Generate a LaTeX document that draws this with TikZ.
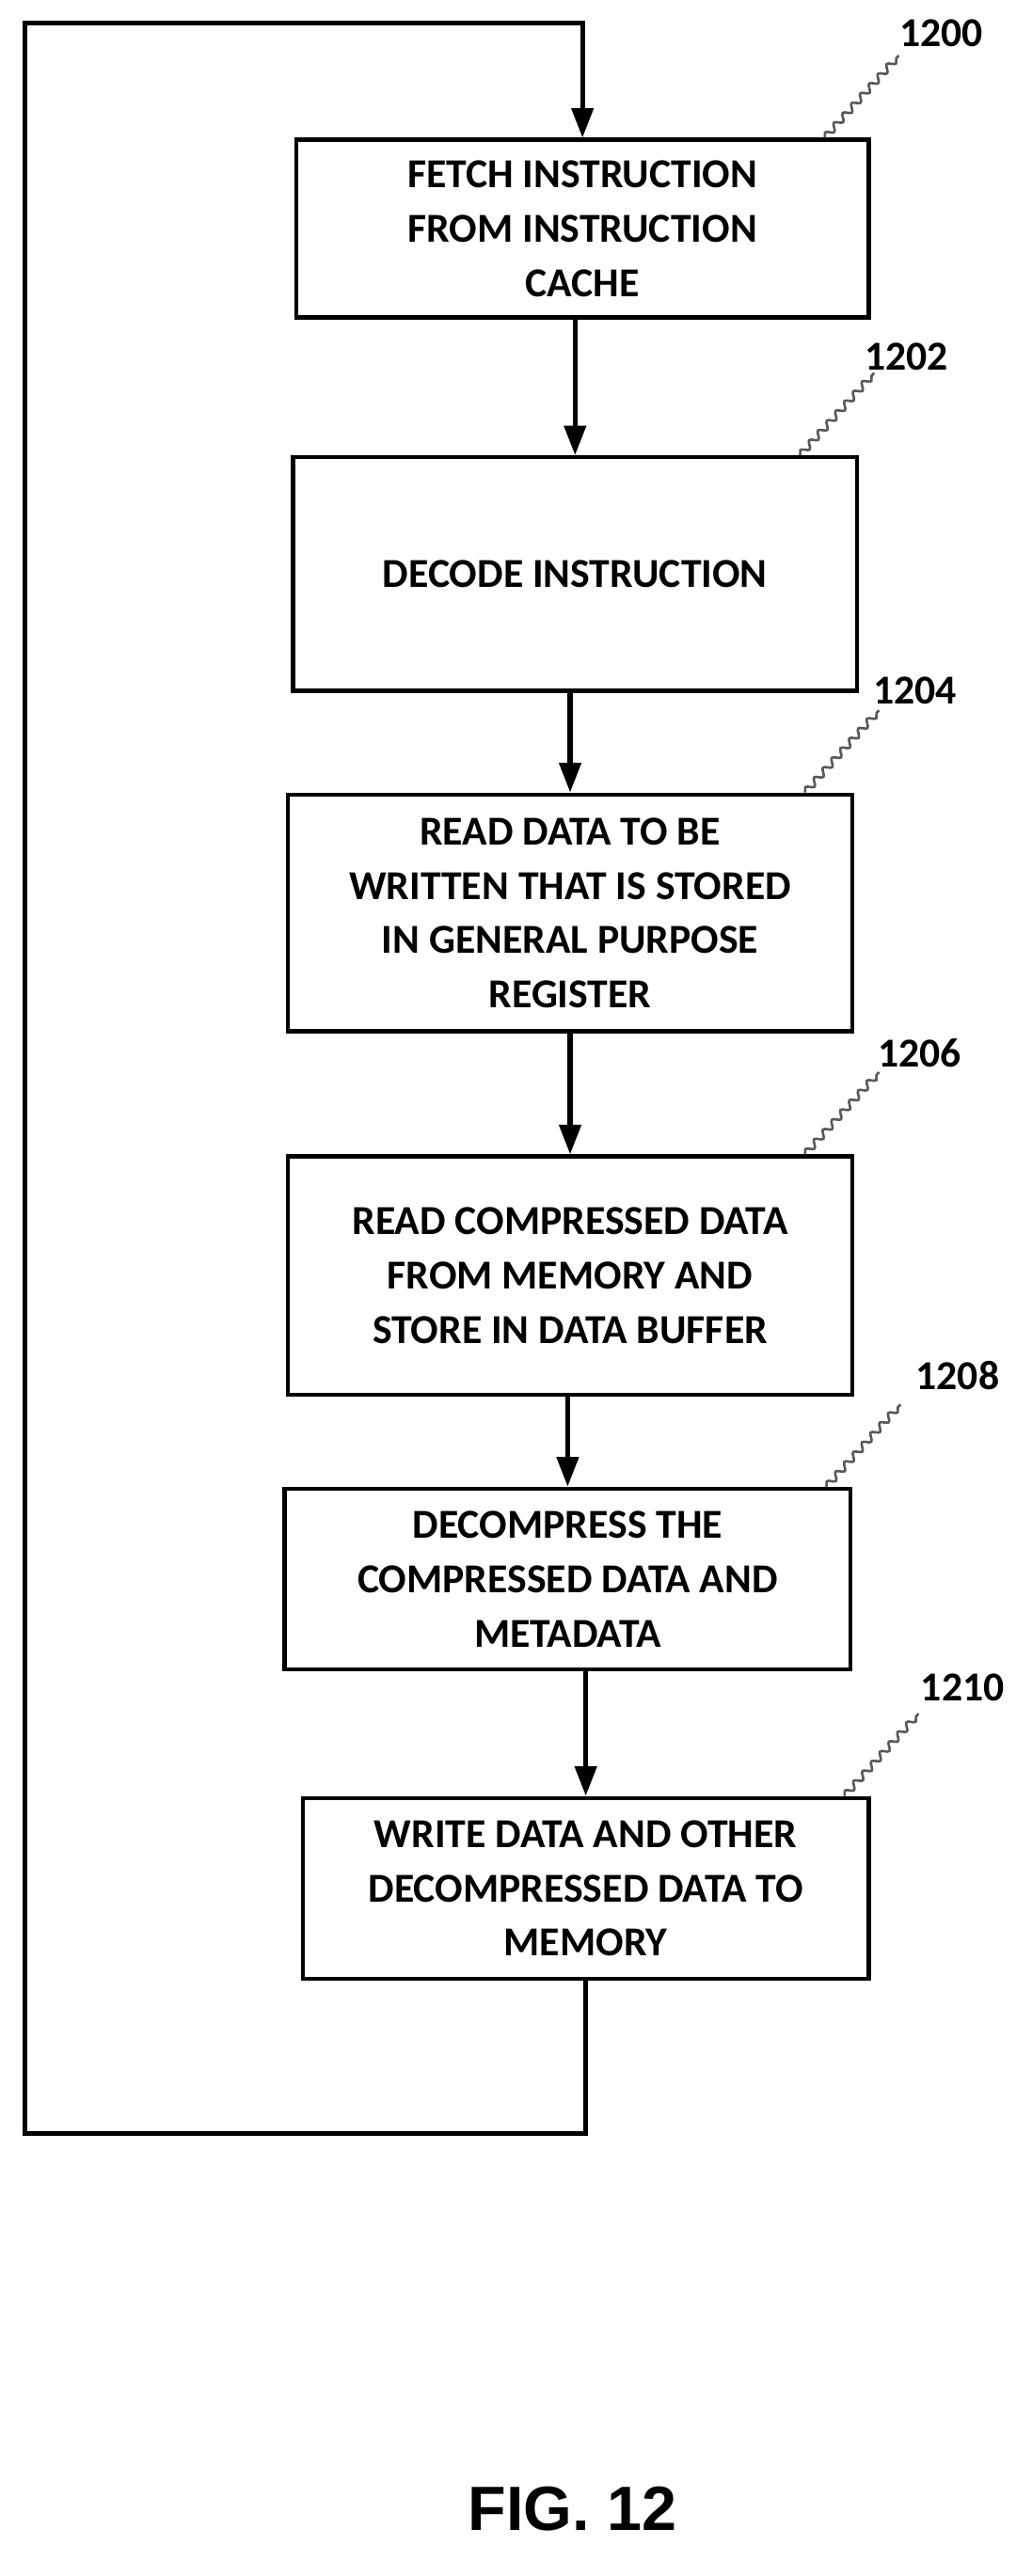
\documentclass[tikz,border=0pt]{standalone}
\usepackage{fontspec}
\setmainfont{Carlito}
\newfontfamily\figfont{Liberation Sans}
\usetikzlibrary{positioning, arrows.meta, decorations.pathmorphing}

\begin{document}
\begin{tikzpicture}[x=1pt, y=-1pt,
  stepbox/.style={draw, line width=2.5pt, align=center, font=\bfseries\fontsize{25}{33}\selectfont, inner sep=0pt},
  flow/.style={line width=3pt, -{Triangle[length=18pt, width=13pt]}},
  ref/.style={font=\bfseries\fontsize{25}{28}\selectfont},
  squig/.style={draw=gray!70!black, line width=1.5pt, decorate, decoration={snake, amplitude=2pt, segment length=8pt}}]
  \useasboundingbox (0,0) rectangle (627,1566);
  % steps
  \node[stepbox, minimum width=348pt, minimum height=108pt] (fetch) at (354,139) {FETCH INSTRUCTION\\FROM INSTRUCTION\\CACHE};
  \node[stepbox, minimum width=343pt, minimum height=142pt] (decode) at (349.5,349) {DECODE INSTRUCTION};
  \node[stepbox, minimum width=343pt, minimum height=144pt] (readgpr) at (346.5,555) {READ DATA TO BE\\WRITTEN THAT IS STORED\\IN GENERAL PURPOSE\\REGISTER};
  \node[stepbox, minimum width=343pt, minimum height=145pt] (readmem) at (346.5,775.5) {READ COMPRESSED DATA\\FROM MEMORY AND\\STORE IN DATA BUFFER};
  \node[stepbox, minimum width=344pt, minimum height=110pt] (decomp) at (345,960) {DECOMPRESS THE\\COMPRESSED DATA AND\\METADATA};
  \node[stepbox, minimum width=344pt, minimum height=110pt] (write) at (356,1148) {WRITE DATA AND OTHER\\DECOMPRESSED DATA TO\\MEMORY};
  % reference numerals
  \node[ref] (n1200) at (572,20) {1200};
  \node[ref] (n1202) at (551,217) {1202};
  \node[ref] (n1204) at (556,420) {1204};
  \node[ref] (n1206) at (559,640) {1206};
  \node[ref] (n1208) at (582,836) {1208};
  \node[ref] (n1210) at (585,1026) {1210};
  \draw[squig] (fetch.north east) ++(-28,0) -- ++(45,-50);
  \draw[squig] (decode.north east) ++(-36,0) -- ++(45,-50);
  \draw[squig] (readgpr.north east) ++(-30,0) -- ++(45,-50);
  \draw[squig] (readmem.north east) ++(-30,0) -- ++(45,-50);
  \draw[squig] (decomp.north east) ++(-16,0) -- ++(45,-50);
  \draw[squig] (write.north east) ++(-16,0) -- ++(45,-50);
  % connectors
  \draw[flow] (fetch.south -| decode.north) -- (decode.north);
  \draw[flow] (decode.south -| readgpr.north) -- (readgpr.north);
  \draw[flow] (readgpr) -- (readmem);
  \draw[flow] (readmem.south -| decomp.north) -- (decomp.north);
  \draw[flow] (decomp.south -| write.north) -- (write.north);
  \coordinate (loopa) at (356,1297);
  \coordinate (loopb) at (15,1297);
  \coordinate (loopc) at (15,14);
  \coordinate (loopd) at (354,14);
  \draw[flow] (write.south) -- (loopa) -- (loopb) -- (loopc) -- (loopd) -- (fetch.north);
  % caption
  \node[font=\figfont\bfseries\fontsize{38}{40}\selectfont] (cap) at (348,1525) {FIG. 12};
\end{tikzpicture}
\end{document}
